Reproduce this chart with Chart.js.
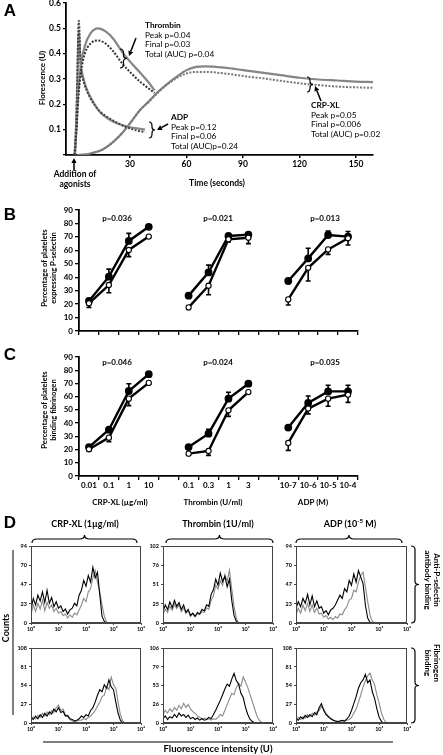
<!DOCTYPE html>
<html>
<head>
<meta charset="utf-8">
<script src="https://cdn.jsdelivr.net/npm/chart.js@4.4.1/dist/chart.umd.min.js"></script>
<style>
    body { margin: 0; background: #fff; }
    #page { position: relative; width: 443px; height: 755px; overflow: hidden; font-family: Lato, "Liberation Sans", sans-serif; }
    .holder { position: absolute; }
    .txt { position: absolute; white-space: nowrap; color: #000; line-height: 1.15; text-align: center; }
    #overlay { position: absolute; left: 0; top: 0; pointer-events: none; }
</style>
</head>
<body>
<div id="page">
    <div class="holder" style="left:0;top:0"><canvas id="chartA" width="443" height="200"></canvas></div>
    <div class="holder" style="left:0;top:198px"><canvas id="chartB" width="443" height="142"></canvas></div>
    <div class="holder" style="left:0;top:345px"><canvas id="chartC" width="443" height="150"></canvas></div>
    <svg id="overlay" width="443" height="755"></svg>
</div>
<script>
// --- Daten: Panel A (Zeitverlauf) ---

const timeTicksA = [30, 60, 90, 120, 150];
const thrombinTime = [0.5, 1.5, 2.5, 4, 6, 9, 13, 17, 21, 26, 31, 36, 40, 43];
const thrombinSolid = [0, 0.1, 0.25, 0.36, 0.43, 0.48, 0.5, 0.488, 0.46, 0.405, 0.36, 0.32, 0.285, 0.255];
const thrombinDotted = [0, 0.09, 0.22, 0.33, 0.4, 0.44, 0.452, 0.44, 0.41, 0.36, 0.32, 0.285, 0.262, 0.245];
const adpTime = [0.8, 1.8, 2.8, 3.8, 5, 7, 10, 14, 18, 23, 28, 33, 38];
const adpSolid = [0, 0.2, 0.49, 0.36, 0.31, 0.26, 0.215, 0.17, 0.145, 0.125, 0.113, 0.106, 0.1];
const adpDotted = [0, 0.25, 0.53, 0.35, 0.3, 0.255, 0.21, 0.172, 0.15, 0.128, 0.11, 0.098, 0.09];
const crpTime = [2, 6, 10, 15, 20, 25, 30, 35, 40, 45, 50, 55, 60, 65, 70, 80, 90, 100, 110, 120, 130, 140, 150, 159];
const crpSolid = [0, 0.002, 0.008, 0.02, 0.045, 0.08, 0.125, 0.175, 0.212, 0.25, 0.282, 0.31, 0.335, 0.348, 0.35, 0.345, 0.335, 0.325, 0.315, 0.305, 0.298, 0.294, 0.29, 0.288];
const crpDotted = [0, 0.002, 0.008, 0.02, 0.045, 0.08, 0.125, 0.175, 0.21, 0.248, 0.28, 0.305, 0.322, 0.328, 0.328, 0.322, 0.312, 0.303, 0.293, 0.283, 0.276, 0.27, 0.267, 0.265];

// --- Daten: Panels B und C (Dosis-Wirkung) ---

const doseLabels = ['0.01', '0.1', '1', '10', '', '0.1', '0.3', '1', '3', '', '10-7', '10-6', '10-5', '10-4'];
const bFilled = [22.3, 40.4, 67, 77.5, null, 26.3, 43.6, 70.7, 71.7, null, 37.2, 54, 71.4, 70.2];
const bFilledErr = [1, 5.6, 5.6, 1.5, null, 1, 5.4, 1, 1, null, 1, 7.5, 3, 3.8];
const bOpen = [20.6, 34.2, 60.3, 70.2, null, 17.6, 33.7, 68.2, 69.4, null, 23.5, 47, 60.7, 69];
const bOpenErr = [3, 5.7, 5, 1, null, 1.6, 6.7, 2, 4.4, null, 4.2, 9.8, 3.7, 5];
const cFilled = [21.9, 35, 64.3, 77, null, 21.9, 32, 58.5, 69.8, null, 36.6, 55.2, 64, 64];
const cFilledErr = [1, 1.5, 5.5, 1, null, 1, 3.3, 4.8, 1, null, 1, 5.3, 4.6, 4.6];
const cOpen = [20.2, 29, 58.5, 70.4, null, 16.9, 18.9, 49.7, 63.5, null, 25, 51, 58.5, 61.5];
const cOpenErr = [1.2, 3, 5.3, 1, null, 1, 3.3, 4.6, 1, null, 5.6, 4, 5.8, 5.8];

// --- Daten: Panel D (Histogramme, 12 Kanäle pro Dekade ab 10^0) ---

const binsPerDecade = 12;
const decadeTicks = [0, 1, 2, 3, 4];
const histMax = [94, 102, 94, 108, 106, 108];
const crpPselBlack = [17, 30, 22, 34, 27, 38, 25, 40, 24, 31, 20, 26, 18, 21, 14, 17, 11, 16, 18, 24, 21, 34, 40, 52, 45, 58, 50, 68, 55, 62, 35, 8, 2, 0, 0, 0, 0];
const crpPselGray = [10, 22, 14, 24, 17, 28, 15, 25, 18, 22, 14, 18, 12, 14, 9, 11, 6, 10, 7, 12, 10, 16, 22, 30, 26, 38, 42, 55, 64, 50, 38, 22, 8, 1, 0, 0, 0];
const thrPselBlack = [15, 24, 18, 28, 20, 30, 22, 27, 18, 24, 14, 18, 10, 13, 9, 14, 12, 18, 16, 24, 22, 38, 44, 58, 50, 66, 55, 62, 48, 58, 30, 10, 2, 0, 0, 0, 0];
const thrPselGray = [12, 18, 14, 22, 17, 25, 19, 24, 15, 20, 13, 16, 9, 12, 8, 12, 11, 15, 14, 20, 18, 30, 36, 50, 45, 56, 50, 64, 55, 70, 45, 22, 6, 0, 0, 0, 0];
const adpPselBlack = [18, 26, 20, 30, 24, 35, 22, 33, 20, 27, 18, 20, 12, 15, 10, 16, 18, 22, 28, 34, 30, 42, 38, 52, 46, 60, 50, 64, 56, 48, 22, 6, 1, 0, 0, 0, 0];
const adpPselGray = [10, 18, 12, 22, 15, 24, 14, 22, 13, 18, 11, 12, 7, 9, 5, 7, 4, 8, 6, 11, 10, 16, 20, 28, 30, 40, 38, 50, 58, 62, 44, 26, 10, 2, 0, 0, 0];
const crpFibBlack = [8, 5, 10, 6, 12, 8, 14, 10, 16, 13, 20, 16, 22, 15, 17, 10, 11, 6, 5, 3, 4, 6, 10, 8, 12, 10, 18, 22, 30, 40, 48, 45, 55, 50, 62, 52, 48, 30, 14, 4, 0, 0, 0];
const crpFibGray = [5, 9, 6, 11, 8, 14, 10, 16, 12, 18, 15, 22, 26, 18, 20, 12, 9, 5, 3, 2, 3, 4, 4, 6, 5, 8, 10, 14, 18, 24, 30, 38, 40, 52, 48, 66, 55, 50, 30, 12, 3, 0, 0];
const thrFibBlack = [6, 10, 5, 9, 7, 12, 8, 14, 10, 12, 8, 11, 6, 8, 5, 7, 4, 6, 4, 5, 8, 6, 12, 18, 25, 32, 40, 48, 55, 52, 62, 70, 60, 55, 42, 36, 22, 12, 5, 2, 0, 0, 0, 0, 0];
const thrFibGray = [12, 18, 14, 20, 16, 22, 18, 25, 20, 28, 22, 26, 20, 16, 14, 10, 8, 6, 7, 5, 6, 4, 6, 5, 8, 12, 10, 18, 26, 34, 42, 40, 50, 56, 52, 65, 58, 50, 40, 30, 20, 10, 4, 1, 0];
const adpFibBlack = [6, 4, 9, 6, 11, 8, 12, 9, 15, 12, 22, 28, 18, 12, 9, 6, 4, 3, 2, 3, 4, 3, 6, 10, 18, 28, 38, 50, 58, 62, 70, 58, 62, 45, 35, 20, 8, 2, 0, 0, 0];
const adpFibGray = [4, 8, 5, 9, 7, 12, 9, 14, 11, 16, 18, 24, 20, 14, 10, 7, 5, 3, 2, 2, 3, 2, 4, 5, 8, 14, 20, 30, 40, 52, 60, 68, 72, 62, 55, 40, 28, 14, 5, 1, 0];

const superDigits = ['⁰', '¹', '²', '³', '⁴'];

Chart.defaults.font.family = "Lato, 'Liberation Sans', sans-serif";
Chart.defaults.color = '#000';
Chart.defaults.animation = false;

// --- Hilfsfunktionen ---

const page = document.getElementById('page');
const svg = document.getElementById('overlay');

function addText(html, x, y, opts = {}) {
    const el = document.createElement('div');
    el.className = 'txt';
    el.innerHTML = html;
    el.style.left = x + 'px';
    el.style.top = y + 'px';
    el.style.fontSize = (opts.size || 9) + 'px';
    el.style.fontWeight = opts.bold ? 'bold' : 'normal';
    if (opts.family) el.style.fontFamily = opts.family;
    if (opts.align === 'left') {
        el.style.textAlign = 'left';
        el.style.transform = 'translate(0, -50%)';
    } else {
        el.style.transform = 'translate(-50%, -50%)' + (opts.rotate ? ` rotate(${opts.rotate}deg)` : '');
    }
    page.appendChild(el);
}

function svgPath(d, width) {
    const p = document.createElementNS('http://www.w3.org/2000/svg', 'path');
    p.setAttribute('d', d);
    p.setAttribute('fill', 'none');
    p.setAttribute('stroke', '#000');
    p.setAttribute('stroke-width', width || 1.2);
    svg.appendChild(p);
}

// geschweifte Klammer, Spitze nach rechts
function vBrace(x, y1, y2, w) {
    const ym = (y1 + y2) / 2, xh = x + w / 2;
    svgPath(`M ${x} ${y1} Q ${xh} ${y1} ${xh} ${y1 + 4} L ${xh} ${ym - 3} Q ${xh} ${ym} ${x + w} ${ym} ` +
        `Q ${xh} ${ym} ${xh} ${ym + 3} L ${xh} ${y2 - 4} Q ${xh} ${y2} ${x} ${y2}`);
}

// geschweifte Klammer, Spitze nach oben
function hBrace(x1, x2, y, h) {
    const xm = (x1 + x2) / 2, yh = y + h / 2;
    svgPath(`M ${x1} ${y + h} Q ${x1} ${yh} ${x1 + 5} ${yh} L ${xm - 5} ${yh} Q ${xm} ${yh} ${xm} ${y} ` +
        `Q ${xm} ${yh} ${xm + 5} ${yh} L ${x2 - 5} ${yh} Q ${x2} ${yh} ${x2} ${y + h}`);
}

function arrow(x1, y1, x2, y2) {
    const a = Math.atan2(y2 - y1, x2 - x1);
    const bx = x2 - 5 * Math.cos(a), by = y2 - 5 * Math.sin(a);
    svgPath(`M ${x1} ${y1} L ${bx} ${by}`, 1.5);
    const head = document.createElementNS('http://www.w3.org/2000/svg', 'path');
    const px = 2.6 * Math.sin(a), py = -2.6 * Math.cos(a);
    head.setAttribute('d', `M ${x2} ${y2} L ${bx + px} ${by + py} L ${bx - px} ${by - py} Z`);
    head.setAttribute('fill', '#000');
    svg.appendChild(head);
}

function fixedAxis(size, horizontal) {
    return (s) => {
        if (horizontal) {
            s.height = size;
            s.paddingLeft = 0;
            s.paddingRight = 0;
        } else {
            s.width = size;
            s.paddingTop = 0;
            s.paddingBottom = 0;
        }
    };
}

const errorBars = {
    id: 'errorBars',
    beforeDatasetsDraw(chart) {
        const ctx = chart.ctx;
        const yScale = chart.scales.y;
        chart.data.datasets.forEach((ds, di) => {
            if (!ds.errors) return;
            const meta = chart.getDatasetMeta(di);
            ctx.save();
            ctx.strokeStyle = '#000';
            ctx.lineWidth = 1.6;
            meta.data.forEach((pt, i) => {
                const v = ds.data[i];
                const e = ds.errors[i];
                if (v == null || e == null) return;
                const y2 = yScale.getPixelForValue(v + ds.errorDir * e);
                ctx.beginPath();
                ctx.moveTo(pt.x, pt.y);
                ctx.lineTo(pt.x, y2);
                ctx.moveTo(pt.x - 2.5, y2);
                ctx.lineTo(pt.x + 2.5, y2);
                ctx.stroke();
            });
            ctx.restore();
        });
    }
};

const frame = {
    id: 'frame',
    afterDraw(chart) {
        const a = chart.chartArea;
        const ctx = chart.ctx;
        ctx.save();
        ctx.strokeStyle = '#444';
        ctx.lineWidth = 1;
        ctx.strokeRect(a.left + 0.5, a.top + 0.5, a.right - a.left - 1, a.bottom - a.top - 1);
        ctx.restore();
    }
};

function xy(times, values) {
    return times.map((t, i) => ({ x: t, y: values[i] }));
}

// --- Panel A ---

function curve(times, values, color, dashed) {
    return {
        data: xy(times, values),
        borderColor: color,
        borderWidth: dashed ? 2 : 2.2,
        borderDash: dashed ? [2, 1.5] : [],
        pointRadius: 0,
        cubicInterpolationMode: 'monotone'
    };
}

new Chart(document.getElementById('chartA'), {
    type: 'line',
    data: {
        datasets: [
            curve(thrombinTime, thrombinDotted, '#333', true),
            curve(thrombinTime, thrombinSolid, '#858585', false),
            curve(adpTime, adpDotted, '#444', true),
            curve(adpTime, adpSolid, '#8a8a8a', false),
            curve(crpTime, crpDotted, '#777', true),
            curve(crpTime, crpSolid, '#858585', false)
        ]
    },
    options: {
        responsive: false,
        layout: { padding: { top: 3, right: 70, left: 0, bottom: 0 } },
        plugins: { legend: { display: false }, tooltip: { enabled: false } },
        scales: {
            x: {
                type: 'linear', min: -4, max: 159,
                afterBuildTicks: (s) => { s.ticks = timeTicksA.map(v => ({ value: v })); },
                afterFit: fixedAxis(45, true),
                border: { color: '#000', width: 1.8 },
                grid: { drawOnChartArea: false, tickLength: 3, color: '#000', lineWidth: 1.5 },
                ticks: { font: { size: 8.5, weight: 'bold' }, padding: 1, maxRotation: 0 }
            },
            y: {
                min: 0, max: 0.6,
                afterFit: fixedAxis(66, false),
                border: { color: '#000', width: 1.8 },
                grid: { drawOnChartArea: false, tickLength: 3, color: '#000', lineWidth: 1.2 },
                ticks: { stepSize: 0.1, font: { size: 8.5, weight: 'bold' }, padding: 2,
                    callback: v => v === 0 ? '' : v.toFixed(1) }
            }
        }
    }
});

// --- Panels B und C ---

function doseChart(id, filled, filledErr, open, openErr, showLabels, xHeight) {
    new Chart(document.getElementById(id), {
        type: 'line',
        data: {
            labels: doseLabels,
            datasets: [
                { data: open, errors: openErr, errorDir: -1, borderColor: '#000', borderWidth: 2.4,
                  pointRadius: 2.6, pointBackgroundColor: '#fff', pointBorderColor: '#000', pointBorderWidth: 1.1 },
                { data: filled, errors: filledErr, errorDir: 1, borderColor: '#000', borderWidth: 2.4,
                  pointRadius: 2.7, pointBackgroundColor: '#000', pointBorderColor: '#000' }
            ]
        },
        options: {
            responsive: false,
            layout: { padding: { top: 12, right: 85, left: 0, bottom: 0 } },
            plugins: { legend: { display: false }, tooltip: { enabled: false } },
            scales: {
                x: {
                    type: 'category', offset: true,
                    afterFit: fixedAxis(xHeight, true),
                    border: { color: '#000', width: 1.8 },
                    grid: { offset: true, drawOnChartArea: false, tickLength: 4, color: '#000', lineWidth: 1.3 },
                    ticks: { autoSkip: false, maxRotation: 0, padding: 1, font: { size: 8, weight: 'bold' },
                        callback: (v, i) => showLabels ? doseLabels[i] : '' }
                },
                y: {
                    min: 0, max: 90,
                    afterFit: fixedAxis(79, false),
                    border: { color: '#000', width: 1.8 },
                    grid: { drawOnChartArea: false, tickLength: 4, color: '#000', lineWidth: 1.3 },
                    ticks: { stepSize: 10, font: { size: 8, weight: 'bold' }, padding: 2 }
                }
            }
        },
        plugins: [errorBars]
    });
}

doseChart('chartB', bFilled, bFilledErr, bOpen, bOpenErr, false, 9);
doseChart('chartC', cFilled, cFilledErr, cOpen, cOpenErr, true, 19);

// --- Panel D ---

function histPoints(counts) {
    return counts.map((c, i) => ({ x: i / binsPerDecade, y: c }));
}

const histCols = [[31, 141], [163, 273], [296, 407]];
const histRows = [[546, 623], [648, 723]];
const histData = [
    [crpPselBlack, crpPselGray], [thrPselBlack, thrPselGray], [adpPselBlack, adpPselGray],
    [crpFibBlack, crpFibGray], [thrFibBlack, thrFibGray], [adpFibBlack, adpFibGray]
];

histData.forEach((pair, k) => {
    const col = histCols[k % 3], row = histRows[Math.floor(k / 3)];
    const left = col[0] - 22, top = row[0] - 6;
    const w = col[1] - col[0] + 26, h = row[1] - row[0] + 19;
    const holder = document.createElement('div');
    holder.className = 'holder';
    holder.style.left = left + 'px';
    holder.style.top = top + 'px';
    const canvas = document.createElement('canvas');
    canvas.width = w;
    canvas.height = h;
    holder.appendChild(canvas);
    page.insertBefore(holder, svg);
    const max = histMax[k];
    new Chart(canvas, {
        type: 'line',
        data: {
            datasets: [
                { data: histPoints(pair[0]), borderColor: '#000', borderWidth: 1.1, pointRadius: 0 },
                { data: histPoints(pair[1]), borderColor: '#8a8a8a', borderWidth: 1.1, pointRadius: 0 }
            ]
        },
        options: {
            responsive: false,
            layout: { padding: { top: 6, right: 4, left: 0, bottom: 0 } },
            plugins: { legend: { display: false }, tooltip: { enabled: false } },
            scales: {
                x: {
                    type: 'linear', min: 0, max: 4,
                    afterBuildTicks: (s) => { s.ticks = decadeTicks.map(v => ({ value: v })); },
                    afterFit: fixedAxis(13, true),
                    border: { color: '#444', width: 1 },
                    grid: { drawOnChartArea: false, tickLength: 2, color: '#444' },
                    ticks: { font: { size: 5.5, weight: 'bold' }, padding: 1, maxRotation: 0,
                        callback: v => '10' + superDigits[v] }
                },
                y: {
                    min: 0, max: max,
                    afterBuildTicks: (s) => { s.ticks = [0, 0.25, 0.5, 0.75, 1].map(f => ({ value: max * f })); },
                    afterFit: fixedAxis(22, false),
                    border: { color: '#444', width: 1 },
                    grid: { drawOnChartArea: false, tickLength: 2, color: '#444' },
                    ticks: { font: { size: 5.5, weight: 'bold' }, padding: 2, callback: v => Math.floor(v) }
                }
            }
        },
        plugins: [frame]
    });
});

// --- Beschriftungen ---

const letterFont = "'Liberation Sans', Arial, sans-serif";
addText('A', 10, 11, { size: 17, bold: true, family: letterFont });
addText('B', 10, 215, { size: 17, bold: true, family: letterFont });
addText('C', 10, 355, { size: 17, bold: true, family: letterFont });
addText('D', 10, 523, { size: 17, bold: true, family: letterFont });

// Panel A
addText('Florescence (U)', 43, 78, { size: 8, bold: true, rotate: -90 });
addText('Time (seconds)', 217, 184, { size: 8.5, bold: true });
addText('Addition of<br>agonists', 75, 180, { size: 8.5, bold: true });
addText('<b>Thrombin</b><br>Peak p=0.04<br>Final p=0.03<br>Total (AUC) p=0.04', 145, 40, { size: 8.3, align: 'left' });
addText('<b>ADP</b><br>Peak p=0.12<br>Final p=0.06<br>Total (AUC)p=0.24', 171, 132, { size: 8.3, align: 'left' });
addText('<b>CRP-XL</b><br>Peak p=0.05<br>Final p=0.006<br>Total (AUC) p=0.02', 311, 120, { size: 8.3, align: 'left' });
vBrace(120, 49, 68, 7);
vBrace(149, 122, 138, 6);
vBrace(307, 77, 92, 6);
arrow(136, 38, 129, 56);
arrow(168, 124, 157, 130);
arrow(321, 101, 315, 86);
arrow(74, 171, 74, 158);

// Panels B, C
addText('Percentage of platelets<br>expressing P-selectin', 49, 268, { size: 7.6, bold: true, rotate: -90 });
addText('Percentage of platelets<br>binding fibrinogen', 49, 410, { size: 7.6, bold: true, rotate: -90 });
addText('p=0.036', 117, 219, { size: 8, bold: true });
addText('p=0.021', 218, 219, { size: 8, bold: true });
addText('p=0.013', 325, 219, { size: 8, bold: true });
addText('p=0.046', 117, 363, { size: 8, bold: true });
addText('p=0.024', 218, 363, { size: 8, bold: true });
addText('p=0.035', 325, 363, { size: 8, bold: true });
addText('CRP-XL (µg/ml)', 120, 503, { size: 8, bold: true });
addText('Thrombin (U/ml)', 213, 503, { size: 8, bold: true });
addText('ADP (M)', 313, 503, { size: 8, bold: true });

// Panel D
addText('CRP-XL (1µg/ml)', 85, 524, { size: 9, bold: true });
addText('Thrombin (1U/ml)', 218, 524, { size: 9, bold: true });
addText('ADP (10<sup style="font-size:6px">-5</sup> M)', 350, 524, { size: 9, bold: true });
hBrace(32, 137, 535, 8);
hBrace(166, 273, 535, 8);
hBrace(296, 402, 535, 8);
vBrace(411, 546, 623, 8);
vBrace(411, 648, 723, 8);
addText('Anti-P-selectin<br>antibody binding', 432, 580, { size: 8, bold: true, rotate: 90 });
addText('Fibrinogen<br>binding', 432, 663, { size: 8, bold: true, rotate: 90 });
addText('Counts', 6, 628, { size: 9, bold: true, rotate: -90 });
addText('Fluorescence intensity (U)', 218, 749, { size: 9.5, bold: true });
svgPath('M 13 550 L 13 715', 1);
svgPath('M 43 742 L 393 742', 1);
</script>
</body>
</html>
